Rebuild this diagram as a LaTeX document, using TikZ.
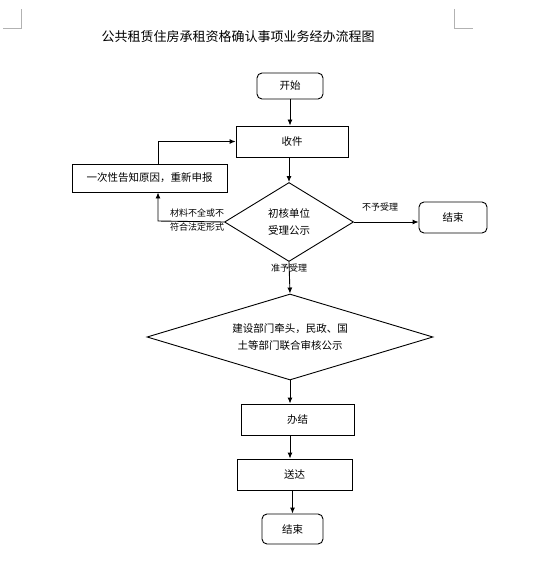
\documentclass[tikz,border=0pt]{standalone}
\usepackage{fontspec}
\setmainfont{Noto Sans CJK SC}
\usetikzlibrary{shapes.geometric,arrows.meta}
\begin{document}
\begin{tikzpicture}[x=1pt,y=-1pt,
  every node/.style={font=\fontsize{10.5}{17}\selectfont},
  boxn/.style={draw,line width=0.9pt,inner sep=0pt},
  rbox/.style={draw,line width=0.9pt,rounded corners=5pt,inner sep=0pt},
  dia/.style={draw,diamond,line width=0.9pt,inner sep=0pt,align=center},
  arr/.style={line width=0.9pt,-{Latex[length=6pt,width=5pt]}},
  lbl/.style={font=\fontsize{9}{12}\selectfont,inner sep=1pt},
  cornermark/.style={draw=gray!60,line width=0.6pt}]
\useasboundingbox (0,0) rectangle (535,580);
% corner marks
\coordinate (m1) at (3,28); \coordinate (m2) at (21,28); \coordinate (m3) at (21,9);
\coordinate (m4) at (454,9); \coordinate (m5) at (454,28); \coordinate (m6) at (473,28);
\draw[cornermark] (m1) -- (m2) -- (m3);
\draw[cornermark] (m4) -- (m5) -- (m6);
% title
\node[font=\fontsize{13}{16}\selectfont] (title) at (238,37) {公共租赁住房承租资格确认事项业务经办流程图};
% nodes
\node[rbox,minimum width=66pt,minimum height=26pt] (start) at (290,86) {开始};
\node[boxn,minimum width=112pt,minimum height=31pt] (shou) at (292,141.5) {收件};
\node[boxn,minimum width=155pt,minimum height=28pt] (reason) at (149.5,178) {一次性告知原因，重新申报};
\node[dia,minimum width=129pt,minimum height=79pt] (d1) at (289,222) {初核单位\\受理公示};
\node[rbox,minimum width=68pt,minimum height=31pt] (end1) at (453,217.5) {结束};
\node[dia,minimum width=286pt,minimum height=86pt,shape aspect=3.3] (d2) at (290,337) {建设部门牵头，民政、国\\土等部门联合审核公示};
\node[boxn,minimum width=113pt,minimum height=31pt] (ban) at (297.5,419.5) {办结};
\node[boxn,minimum width=115pt,minimum height=31pt] (song) at (294.5,474.5) {送达};
\node[rbox,minimum width=61pt,minimum height=30pt] (end2) at (292.5,529) {结束};
% connectors
\draw[arr] (start.south) -- (start.south |- shou.north);
\draw[arr] (shou.south -| d1.north) -- (d1.north);
\coordinate (kl) at (158,221);
\draw[arr] (d1.west) -- (kl) -- (kl |- reason.south);
\draw[arr] (reason.north -| kl) |- (shou.west);
\draw[arr] (d1.east) -- (d1.east -| end1.west);
\draw[arr] (d1.south) -- (d2.north);
\draw[arr] (d2.south) -- (d2.south |- ban.north);
\draw[arr] (ban.south -| d2.south) -- (song.north -| d2.south);
\draw[arr] (song.south -| end2.north) -- (end2.north);
% labels
\node[lbl,anchor=south] (l1) at (197,218) {材料不全或不};
\node[lbl,anchor=north] (l2) at (197,222) {符合法定形式};
\node[lbl,anchor=south] (l3) at (380,212) {不予受理};
\node[lbl] (l4) at (289,268) {准予受理};
\end{tikzpicture}
\end{document}
